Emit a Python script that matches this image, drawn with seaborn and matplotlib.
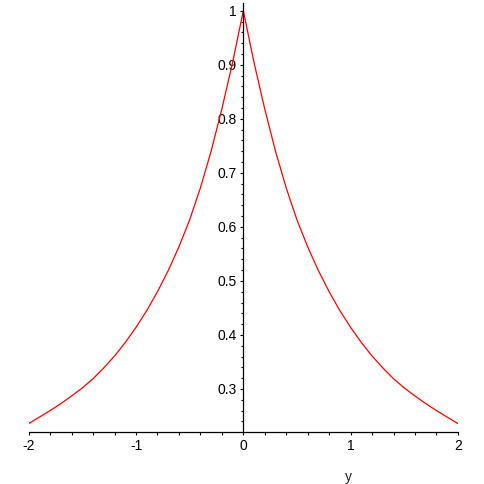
import numpy as np
import pandas as pd
import matplotlib
matplotlib.use('Agg')
import matplotlib.pyplot as plt
from matplotlib.ticker import MultipleLocator, FixedLocator, FixedFormatter
import seaborn as sns

sns.set_style('white')
plt.rcParams['font.family'] = ['Liberation Sans', 'DejaVu Sans']
plt.rcParams['axes.unicode_minus'] = False

# 그림에서 읽은 곡선 값
y_vals = [-2.0, -1.9, -1.8, -1.7, -1.6, -1.5, -1.4, -1.3, -1.2, -1.1,
          -1.0, -0.9, -0.8, -0.7, -0.6, -0.5, -0.4, -0.3, -0.2, -0.1,
          0.0,
          0.1, 0.2, 0.3, 0.4, 0.5, 0.6, 0.7, 0.8, 0.9, 1.0,
          1.1, 1.2, 1.3, 1.4, 1.5, 1.6, 1.7, 1.8, 1.9, 2.0]
f_vals = [0.236, 0.248, 0.260, 0.273, 0.287, 0.302, 0.319, 0.339, 0.361, 0.386,
          0.414, 0.445, 0.480, 0.519, 0.563, 0.613, 0.672, 0.740, 0.818, 0.904,
          1.000,
          0.904, 0.818, 0.740, 0.672, 0.613, 0.563, 0.519, 0.480, 0.445, 0.414,
          0.386, 0.361, 0.339, 0.319, 0.302, 0.287, 0.273, 0.260, 0.248, 0.236]

x_ticks = [-2, -1, 0, 1, 2]
x_labels = ['-2', '-1', '0', '1', '2']
y_ticks = [0.3, 0.4, 0.5, 0.6, 0.7, 0.8, 0.9, 1.0]
y_labels = ['0.3', '0.4', '0.5', '0.6', '0.7', '0.8', '0.9', '1']

df = pd.DataFrame({'y': y_vals, 'f': f_vals})

fig = plt.figure(figsize=(4.84, 4.84), dpi=100)
ax = fig.add_axes([0.0593, 0.1068, 0.8868, 0.8876])

sns.lineplot(data=df, x='y', y='f', color='red', linewidth=0.9, ax=ax)

ax.set_xlim(-2, 2)
ax.set_ylim(0.2198, 1.0148)

# 축 설정 (원점에 세로축)
ax.spines['top'].set_visible(False)
ax.spines['right'].set_visible(False)
ax.spines['left'].set_position(('data', 0))
for s in ['left', 'bottom']:
    ax.spines[s].set_color('black')
    ax.spines[s].set_linewidth(0.9)

ax.xaxis.set_major_locator(FixedLocator(x_ticks))
ax.xaxis.set_major_formatter(FixedFormatter(x_labels))
ax.xaxis.set_minor_locator(MultipleLocator(0.2))
ax.yaxis.set_major_locator(FixedLocator(y_ticks))
ax.yaxis.set_major_formatter(FixedFormatter(y_labels))
ax.yaxis.set_minor_locator(MultipleLocator(0.02))

ax.tick_params(which='both', direction='out', color='black', width=0.8,
               bottom=True, left=True, labelsize=10, labelcolor='black')
ax.tick_params(which='major', length=2.5, pad=2)
ax.tick_params(which='minor', length=1.8)

ax.set_xlabel('y', fontsize=10)
ax.xaxis.set_label_coords(0.746, -0.088)
ax.set_ylabel('')
ax.grid(False)

plt.savefig('out.png', dpi=100)
